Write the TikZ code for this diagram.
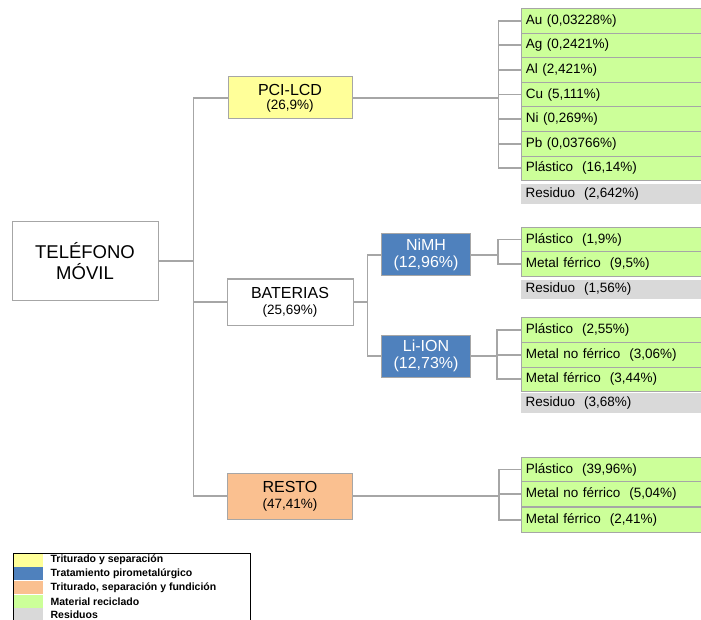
\documentclass[tikz,border=0pt]{standalone}
\usepackage{fontspec}
\setmainfont{Liberation Sans}
\usepackage{tikz}
\usetikzlibrary{calc}

\definecolor{trityellow}{HTML}{FFFF99}
\definecolor{piroblue}{HTML}{4F81BD}
\definecolor{fundorange}{HTML}{FAC090}
\definecolor{recgreen}{HTML}{CCFF99}
\definecolor{resgray}{HTML}{D9D9D9}
\definecolor{linegray}{HTML}{A6A6A6}

\begin{document}
\begin{tikzpicture}[x=1pt, y=-1pt,
    stage/.style={draw=linegray, line width=1pt, align=center, inner sep=1pt, font=\fontsize{16}{17}\selectfont},
    leaf/.style={draw=linegray, line width=0.8pt, fill=recgreen, anchor=west, text width=172pt, inner xsep=4.5pt, inner ysep=0pt, minimum height=24.6pt, align=left, font=\fontsize{13.5}{15}\selectfont},
    residue/.style={fill=resgray, anchor=west, text width=172pt, inner xsep=4.5pt, inner ysep=0pt, minimum height=20pt, align=left, font=\fontsize{13.5}{15}\selectfont},
    link/.style={draw=linegray, line width=1.8pt},
    swatch/.style={anchor=north west, minimum width=30pt, minimum height=13.4pt, inner sep=0pt},
    legtext/.style={anchor=west, inner sep=0pt, font=\bfseries\fontsize{10.5}{11}\selectfont}
]
\useasboundingbox (0,0) rectangle (701,620);

% main stages
\node[stage, minimum width=146, minimum height=78, font=\fontsize{18.5}{21}\selectfont] (tel) at (85,261) {TELÉFONO\\MÓVIL};
\node[stage, fill=trityellow, minimum width=124, minimum height=42] (pci) at (290,98) {PCI-LCD\\[-3pt]{\fontsize{13.5}{14}\selectfont (26,9\%)}};
\node[stage, minimum width=126, minimum height=46] (bat) at (290,302) {BATERIAS\\[-1pt]{\fontsize{13.5}{14}\selectfont (25,69\%)}};
\node[stage, fill=fundorange, minimum width=125, minimum height=46] (resto) at (290,496) {RESTO\\[-1pt]{\fontsize{13.5}{14}\selectfont (47,41\%)}};
\node[stage, fill=piroblue, text=white, minimum width=89, minimum height=42] (nimh) at (426,255) {NiMH\\(12,96\%)};
\node[stage, fill=piroblue, text=white, minimum width=89, minimum height=42] (liion) at (426,356) {Li-ION\\(12,73\%)};

% PCI-LCD products
\node[leaf] (au) at (521,20.8) {Au (0,03228\%)};
\node[leaf] (ag) at (521,45.4) {Ag (0,2421\%)};
\node[leaf] (al) at (521,70) {Al (2,421\%)};
\node[leaf] (cu) at (521,94.6) {Cu (5,111\%)};
\node[leaf] (ni) at (521,119.2) {Ni (0,269\%)};
\node[leaf] (pb) at (521,143.8) {Pb (0,03766\%)};
\node[leaf] (plpci) at (521,168.4) {Plástico\ \ (16,14\%)};
\node[residue] (respci) at (521,194) {Residuo\ \ (2,642\%)};

% NiMH products
\node[leaf] (plnimh) at (521,239.5) {Plástico\ \ (1,9\%)};
\node[leaf] (fenimh) at (521,264.1) {Metal férrico\ \ (9,5\%)};
\node[residue, minimum height=19pt] (resnimh) at (521,289) {Residuo\ \ (1,56\%)};

% Li-ION products
\node[leaf] (plli) at (521,330) {Plástico\ \ (2,55\%)};
\node[leaf] (nfli) at (521,354.6) {Metal no férrico\ \ (3,06\%)};
\node[leaf] (feli) at (521,379.2) {Metal férrico\ \ (3,44\%)};
\node[residue] (resli) at (521,403) {Residuo\ \ (3,68\%)};

% RESTO products
\node[leaf] (plres) at (521,469.5) {Plástico\ \ (39,96\%)};
\node[leaf] (nfres) at (521,494.1) {Metal no férrico\ \ (5,04\%)};
\node[leaf] (feres) at (521,519.8) {Metal férrico\ \ (2,41\%)};

% connectors
\draw[link] (tel.east) -- ++(35,0) |- (pci.west);
\draw[link] (tel.east) -- ++(35,0) |- (bat.west);
\draw[link] (tel.east) -- ++(35,0) |- (resto.west);
\draw[link] (bat.east) -- ++(14,0) |- (nimh.west);
\draw[link] (bat.east) -- ++(14,0) |- (liion.west);
\draw[link] (pci.east) -- ++(146,0) |- (au.west);
\draw[link] (pci.east) -- ++(146,0) |- (ag.west);
\draw[link] (pci.east) -- ++(146,0) |- (al.west);
\draw[link] (pci.east) -- ++(146,0) |- (cu.west);
\draw[link] (pci.east) -- ++(146,0) |- (ni.west);
\draw[link] (pci.east) -- ++(146,0) |- (pb.west);
\draw[link] (pci.east) -- ++(146,0) |- (plpci.west);
\draw[link] (nimh.east) -- ++(27,0) |- (plnimh.west);
\draw[link] (nimh.east) -- ++(27,0) |- (fenimh.west);
\draw[link] (liion.east) -- ++(26,0) |- (plli.west);
\draw[link] (liion.east) -- ++(26,0) |- (nfli.west);
\draw[link] (liion.east) -- ++(26,0) |- (feli.west);
\draw[link] (resto.east) -- ++(146,0) |- (plres.west);
\draw[link] (resto.east) -- ++(146,0) |- (nfres.west);
\draw[link] (resto.east) -- ++(146,0) |- (feres.west);

% legend
\node[swatch, fill=trityellow] (sw1) at (13,553) {};
\node[swatch, fill=piroblue] (sw2) at (sw1.south west) {};
\node[swatch, fill=fundorange] (sw3) at (sw2.south west) {};
\node[swatch, fill=recgreen] (sw4) at (sw3.south west) {};
\node[swatch, fill=resgray] (sw5) at (sw4.south west) {};
\node[legtext] (lg1) at ($(sw1.east)+(7,0)$) {Triturado y separación};
\node[legtext] (lg2) at ($(sw2.east)+(7,0)$) {Tratamiento pirometalúrgico};
\node[legtext] (lg3) at ($(sw3.east)+(7,0)$) {Triturado, separación y fundición};
\node[legtext] (lg4) at ($(sw4.east)+(7,0)$) {Material reciclado};
\node[legtext] (lg5) at ($(sw5.east)+(7,0)$) {Residuos};
\draw[line width=1pt] (13,553) rectangle (250,621);
\end{tikzpicture}
\end{document}
